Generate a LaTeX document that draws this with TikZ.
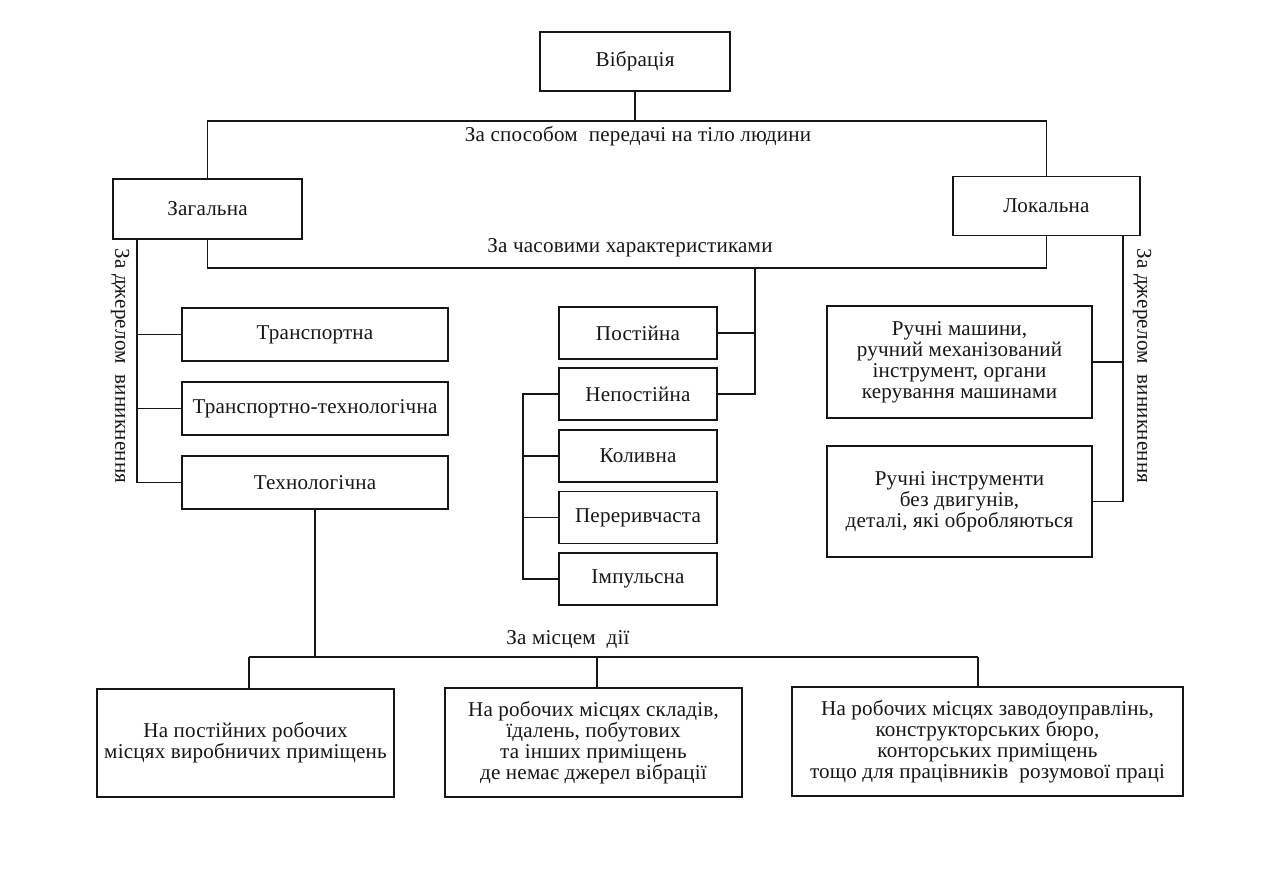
\documentclass[tikz,border=0pt]{standalone}
\usepackage{fontspec}
\setmainfont[LetterSpace=1]{Liberation Serif}
\definecolor{ink}{RGB}{22,22,22}
\tikzset{
  box/.style={draw=ink, line width=1.1pt, outer sep=0pt, inner sep=2pt,
              align=center, text=ink, font=\fontsize{12}{12}\selectfont},
  crit/.style={inner sep=0pt, text=ink, font=\fontsize{12}{14}\selectfont},
  link/.style={draw=ink, line width=1.1pt},
}

\begin{document}
\begin{tikzpicture}[x=0.02cm, y=-0.02cm]
    \useasboundingbox (0,0) rectangle (1288,885);
    % --- top levels ---
    \node[box, minimum width=3.8cm,  minimum height=1.18cm] (vib) at (635,61.5) {Вібрація};
    \node[box, minimum width=3.78cm, minimum height=1.2cm]  (zag) at (207.5,209) {Загальна};
    \node[box, minimum width=3.74cm, minimum height=1.18cm] (lok) at (1046.5,206) {Локальна};
    % --- general vibration, by source ---
    \node[box, minimum width=5.32cm, minimum height=1.06cm] (trans) at (315,334.5) {Транспортна};
    \node[box, minimum width=5.32cm, minimum height=1.06cm] (trte)  at (315,408.5) {Транспортно-технологічна};
    \node[box, minimum width=5.32cm, minimum height=1.06cm] (tech)  at (315,482.5) {Технологічна};
    % --- by time ---
    \node[box, minimum width=3.16cm, minimum height=1.04cm] (post)   at (638,333) {Постійна};
    \node[box, minimum width=3.16cm, minimum height=1.04cm] (nepost) at (638,394) {Непостійна};
    \node[box, minimum width=3.16cm, minimum height=1.04cm] (koly)   at (638,456) {Коливна};
    \node[box, minimum width=3.16cm, minimum height=1.04cm] (pere)   at (638,517.5) {Переривчаста};
    \node[box, minimum width=3.16cm, minimum height=1.04cm] (imp)    at (638,579) {Імпульсна};
    % --- local vibration, by source ---
    \node[box, minimum width=5.3cm, minimum height=2.24cm] (ruchA) at (959.5,362)
      {Ручні машини,\\[0pt]ручний механізований\\[0pt]інструмент, органи\\[0pt]керування машинами};
    \node[box, minimum width=5.3cm, minimum height=2.22cm] (ruchB) at (959.5,501.5)
      {Ручні інструменти\\[0pt]без двигунів,\\[0pt]деталі, які обробляються};
    % --- by place ---
    \node[box, minimum width=5.94cm, minimum height=2.16cm] (mA) at (245.5,743)
      {На постійних робочих\\[0pt]місцях виробничих приміщень};
    \node[box, minimum width=5.94cm, minimum height=2.18cm] (mB) at (593.5,742.5)
      {На робочих місцях складів,\\[0pt]їдалень, побутових\\[0pt]та інших приміщень\\[0pt]де немає джерел вібрації};
    \node[box, minimum width=7.82cm, minimum height=2.18cm] (mC) at (987.5,741.5)
      {На робочих місцях заводоуправлінь,\\[0pt]конструкторських бюро,\\[0pt]конторських приміщень\\[0pt]тощо для працівників\ \ розумової праці};
    % --- criteria labels ---
    \node[crit] (lbWay)  at (638,136) {За способом\ \ передачі на тіло людини};
    \node[crit] (lbTime) at (630,248) {За часовими характеристиками};
    \node[crit] (lbPlace) at (568,640) {За місцем\ \ дії};
    \node[crit, rotate=-90] (lbSrcL) at (120,366) {За джерелом\ \ виникнення};
    \node[crit, rotate=-90] (lbSrcR) at (1142,366) {За джерелом\ \ виникнення};
    % --- helper levels ---
    \coordinate (way)  at (0,121);
    \coordinate (time) at (755,268);
    \coordinate (busL) at (137,0);
    \coordinate (busC) at (523,0);
    \coordinate (busR) at (1123,0);
    \coordinate (pA) at (249,657);
    \coordinate (pB) at (597,657);
    \coordinate (pC) at (978,657);
    % --- connectors ---
    \draw[link] (vib.south) -- (vib.south |- way);
    \draw[link] (zag.north) |- (lok.north |- way) -- (lok.north);
    \draw[link] (zag.south) |- (time) -| (lok.south);
    \draw[link] (time) |- (nepost.east);
    \draw[link] (post.east) -- (post.east -| time);
    \draw[link] (nepost.west) -| (busC |- imp.west) -- (imp.west);
    \draw[link] (koly.west) -- (koly.west -| busC);
    \draw[link] (pere.west) -- (pere.west -| busC);
    \draw[link] (zag.south -| busL) |- (tech.west);
    \draw[link] (trans.west) -- (trans.west -| busL);
    \draw[link] (trte.west) -- (trte.west -| busL);
    \draw[link] (lok.south -| busR) |- (ruchB.east);
    \draw[link] (ruchA.east) -- (ruchA.east -| busR);
    \draw[link] (tech.south) -- (tech.south |- pA);
    \draw[link] (pA) -- (pC);
    \draw[link] (pA) -- (mA.north -| pA);
    \draw[link] (pB) -- (mB.north -| pB);
    \draw[link] (pC) -- (mC.north -| pC);
\end{tikzpicture}
\end{document}
